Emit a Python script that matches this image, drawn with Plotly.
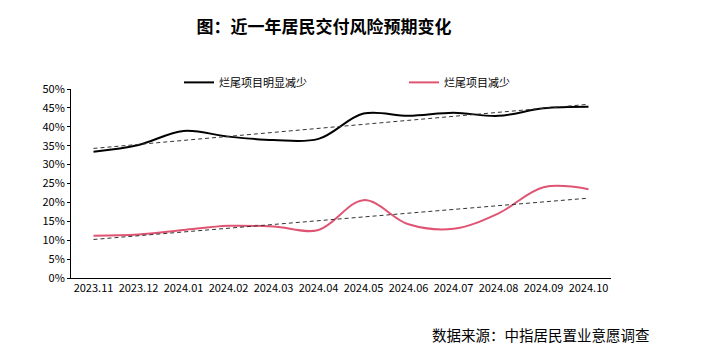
import numpy as np
import plotly.graph_objects as go

months = ["2023.11", "2023.12", "2024.01", "2024.02", "2024.03", "2024.04",
          "2024.05", "2024.06", "2024.07", "2024.08", "2024.09", "2024.10"]
obvious_less = [33.4, 35.2, 38.9, 37.4, 36.5, 36.8, 43.5, 42.9, 43.7, 42.9, 44.9, 45.3]
less = [11.2, 11.5, 12.7, 13.8, 13.6, 12.7, 20.6, 14.2, 13.0, 17.1, 24.0, 23.5]
y_ticks = [0, 5, 10, 15, 20, 25, 30, 35, 40, 45, 50]

FONT = "Noto Sans CJK SC"

def trend(vals):
    x = np.arange(len(vals))
    k, b = np.polyfit(x, np.array(vals) / 100.0, 1)
    return (k * x + b).tolist()

fig = go.Figure()
fig.add_trace(go.Scatter(x=months, y=[v / 100 for v in obvious_less], mode="lines",
                         name="烂尾项目明显减少",
                         line=dict(color="#000000", width=2, shape="spline", smoothing=1)))
fig.add_trace(go.Scatter(x=months, y=[v / 100 for v in less], mode="lines",
                         name="烂尾项目减少",
                         line=dict(color="#E05473", width=2, shape="spline", smoothing=1)))
fig.add_trace(go.Scatter(x=months, y=trend(obvious_less), mode="lines", showlegend=False,
                         hoverinfo="skip",
                         line=dict(color="#333333", width=1, dash="4px,3px")))
fig.add_trace(go.Scatter(x=months, y=trend(less), mode="lines", showlegend=False,
                         hoverinfo="skip",
                         line=dict(color="#333333", width=1, dash="4px,3px")))

fig.update_layout(
    width=717, height=352,
    margin=dict(l=71, r=106, t=89, b=74),
    plot_bgcolor="white", paper_bgcolor="white",
    font=dict(family=FONT, size=11, color="#000000"),
    title=dict(text="<b>图：近一年居民交付风险预期变化</b>", x=324 / 717, xanchor="center",
               y=1 - 27 / 352, yanchor="middle", font=dict(family=FONT, size=17, color="#000")),
    legend=dict(orientation="h", x=0.2, xanchor="left", y=1.035, yanchor="middle",
                font=dict(family=FONT, size=11, color="#000"), entrywidth=180,
                bgcolor="rgba(0,0,0,0)"),
    showlegend=True,
    annotations=[dict(text="数据来源：中指居民置业意愿调查", xref="paper", yref="paper",
                      x=(430 - 71) / 540, xanchor="left",
                      y=-(334 - 278) / 189, yanchor="middle", showarrow=False,
                      font=dict(family=FONT, size=14.5, color="#000"))],
)
fig.update_xaxes(type="category", showline=True, linecolor="#000", linewidth=1,
                 ticks="", showgrid=False, tickfont=dict(size=11), range=[-0.5, 11.5])
fig.update_yaxes(range=[0, 0.5], tickvals=[t / 100 for t in y_ticks],
                 ticktext=[f"{t}%" for t in y_ticks], showline=True, linecolor="#000",
                 linewidth=1, ticks="outside", ticklen=3, tickcolor="#000",
                 showgrid=False, zeroline=False, tickfont=dict(size=11))

fig.write_html("out.html")
